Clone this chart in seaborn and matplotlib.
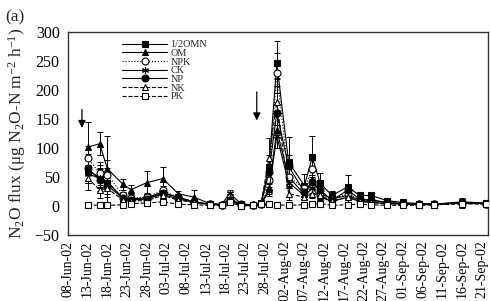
import numpy as np
import pandas as pd
import matplotlib
matplotlib.use("Agg")
import matplotlib.pyplot as plt
import matplotlib.dates as mdates
import seaborn as sns

# ---------------- data ----------------
dates = ["2002-06-13", "2002-06-16", "2002-06-18", "2002-06-22", "2002-06-24", "2002-06-28",
         "2002-07-02", "2002-07-06", "2002-07-10", "2002-07-14", "2002-07-17", "2002-07-19",
         "2002-07-22", "2002-07-25", "2002-07-27", "2002-07-29", "2002-07-31", "2002-08-03",
         "2002-08-07", "2002-08-09", "2002-08-11", "2002-08-14", "2002-08-18", "2002-08-21",
         "2002-08-24", "2002-08-28", "2002-09-01", "2002-09-05", "2002-09-09", "2002-09-16",
         "2002-09-22"]

omn = [60, 50, 40, 14, 12, 14, 24, 14, 7, 3, 2, 10, 3, 2, 5, 67, 245, 75, 35, 84, 39, 18, 33, 18, 18, 9, 6, 4, 3, 6, 5]
om = [101, 107, 64, 37, 28, 40, 47, 21, 15, 4, 3, 12, 3, 2, 3, 30, 130, 50, 20, 45, 22, 12, 18, 10, 10, 6, 4, 3, 3, 7, 5]
npk = [83, 56, 54, 18, 14, 15, 27, 14, 7, 3, 2, 10, 3, 1, 4, 44, 229, 50, 30, 64, 18, 12, 21, 10, 8, 5, 4, 3, 3, 5, 4]
ck = [55, 48, 42, 12, 10, 12, 20, 12, 6, 3, 2, 22, 3, 1, 3, 25, 120, 40, 18, 30, 15, 8, 15, 8, 6, 4, 3, 3, 2, 6, 4]
np_ = [65, 45, 35, 13, 11, 12, 22, 15, 7, 3, 2, 9, 2, 1, 4, 58, 160, 68, 24, 41, 27, 10, 27, 12, 10, 6, 4, 3, 3, 5, 4]
nk = [48, 28, 30, 10, 9, 9, 18, 10, 6, 2, 2, 8, 2, 1, 3, 82, 179, 21, 15, 21, 18, 8, 15, 8, 6, 4, 3, 2, 2, 4, 4]
pk = [2, 1, 1, 2, 4, 5, 7, 3, 2, 1, 1, 6, 0, 1, 3, 3, 2, 1, 2, 3, 4, 1, 2, 3, 2, 1, 1, 1, 2, 4, 3]

omn_err = [20, 20, 20, 8, 5, 8, 10, 6, 4, 2, 1, 4, 1, 1, 2, 20, 38, 43, 20, 37, 17, 7, 20, 6, 5, 3, 2, 2, 1, 3, 2]
om_err = [43, 20, 57, 10, 8, 20, 20, 5, 13, 2, 1, 4, 1, 1, 2, 10, 30, 15, 8, 15, 8, 5, 8, 4, 3, 2, 2, 1, 1, 3, 2]
npk_err = [20, 20, 25, 6, 5, 6, 8, 4, 3, 1, 1, 4, 1, 1, 2, 15, 34, 20, 10, 15, 8, 5, 15, 4, 3, 2, 2, 1, 1, 8, 2]
ck_err = [15, 15, 15, 4, 4, 4, 6, 4, 2, 1, 1, 6, 1, 1, 1, 8, 20, 10, 6, 8, 5, 3, 5, 3, 2, 2, 1, 1, 1, 3, 2]
np_err = [25, 20, 30, 5, 4, 5, 8, 5, 3, 1, 1, 3, 1, 1, 2, 20, 60, 20, 8, 12, 8, 4, 8, 4, 3, 2, 1, 1, 1, 3, 2]
nk_err = [20, 15, 15, 4, 3, 4, 6, 4, 2, 1, 1, 3, 1, 1, 1, 35, 40, 10, 5, 8, 6, 3, 5, 3, 2, 2, 1, 1, 1, 2, 2]
pk_err = [1, 1, 1, 1, 1, 1, 2, 1, 1, 1, 1, 2, 1, 1, 1, 1, 1, 1, 1, 1, 1, 1, 1, 1, 1, 1, 1, 1, 1, 2, 1]

series_names = ["1/2OMN", "OM", "NPK", "CK", "NP", "NK", "PK"]
series_vals = [omn, om, npk, ck, np_, nk, pk]
series_errs = [omn_err, om_err, npk_err, ck_err, np_err, nk_err, pk_err]

tick_start, tick_end = "2002-06-08", "2002-09-21"
yticks = [-50, 0, 50, 100, 150, 200, 250, 300]

arrow_dates = ["2002-06-11 13:00", "2002-07-25 22:00"]
arrow_top = [166, 196]
arrow_tip = [134, 147]

# ---------------- style ----------------
sns.set_theme(style="white")
plt.rcParams["font.family"] = ["Liberation Serif", "DejaVu Serif"]
plt.rcParams["mathtext.fontset"] = "custom"
plt.rcParams["mathtext.rm"] = "Liberation Serif"
plt.rcParams["mathtext.it"] = "Liberation Serif:italic"
plt.rcParams["axes.unicode_minus"] = True

styles = {
    "1/2OMN": dict(marker="s", mfc="black", ls="-"),
    "OM": dict(marker="^", mfc="black", ls="-"),
    "NPK": dict(marker="o", mfc="white", ls=":"),
    "CK": dict(marker=(6, 2, 0), mfc="black", ls="-"),
    "NP": dict(marker="o", mfc="black", ls="-"),
    "NK": dict(marker="^", mfc="white", ls="--"),
    "PK": dict(marker="s", mfc="white", ls="--"),
}

fig = plt.figure(figsize=(4.9, 3.01), dpi=100)
ax = fig.add_axes([68 / 490, 1 - 235 / 301, (488 - 68) / 490, (235 - 31.5) / 301])

x = pd.to_datetime(dates)
for name, vals, errs in zip(series_names, series_vals, series_errs):
    df = pd.DataFrame({"date": x, "flux": vals})
    st = styles[name]
    ax.errorbar(x, vals, yerr=errs, fmt="none", ecolor="black", elinewidth=0.7,
                capsize=2.2, capthick=0.7, zorder=2)
    sns.lineplot(data=df, x="date", y="flux", ax=ax, color="black", lw=0.8,
                 linestyle=st["ls"], marker=st["marker"], markersize=5,
                 markerfacecolor=st["mfc"], markeredgecolor="black",
                 markeredgewidth=0.8, label=name, zorder=3)

t0 = pd.Timestamp(tick_start)
ax.set_xlim(t0, t0 + pd.Timedelta(days=106.6))
ax.set_ylim(-50, 300)
ax.set_yticks(yticks)
ax.set_xticks(pd.date_range(tick_start, tick_end, freq="5D"))
ax.xaxis.set_major_formatter(mdates.DateFormatter("%d-%b-%y"))
plt.setp(ax.get_xticklabels(), rotation=90)
ax.tick_params(axis="both", direction="in", length=3, width=0.8, colors="black", pad=3)
ax.tick_params(axis="x", labelsize=10, pad=4)
ax.tick_params(axis="y", labelsize=11.5, pad=6)
for s in ax.spines.values():
    s.set_color("#333333")
    s.set_linewidth(1.0)
ax.set_xlabel("")
ax.set_ylabel("N$_2$O flux (\u03bcg N$_2$O-N m$^{-2}$ h$^{-1}$)", fontsize=12.5, labelpad=5)

for d, t, tip in zip(arrow_dates, arrow_top, arrow_tip):
    dd = pd.Timestamp(d)
    ax.annotate("", xy=(dd, tip), xytext=(dd, t),
                arrowprops=dict(arrowstyle="-|>", color="black", lw=0.9,
                                mutation_scale=11, shrinkA=0, shrinkB=0))

ax.legend(loc="upper left", bbox_to_anchor=(122 / 490, 1 - 40 / 301),
          bbox_transform=fig.transFigure, frameon=False, fontsize=7.4,
          handlelength=4.4, handletextpad=0.3, labelspacing=-0.05,
          borderpad=0, borderaxespad=0)

fig.text(5 / 490, 1 - 17 / 301, "(a)", fontsize=12.5, va="center", ha="left")

fig.savefig("out.png", dpi=100)
